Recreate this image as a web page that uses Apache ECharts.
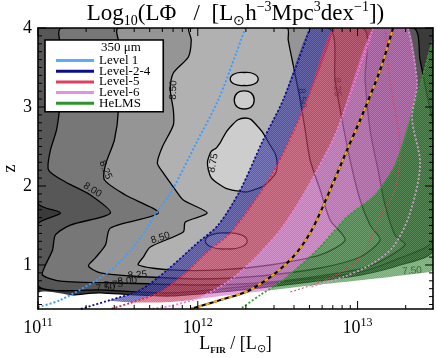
<!DOCTYPE html>
<html><head><meta charset="utf-8">
<script src="https://cdn.jsdelivr.net/npm/echarts@6/dist/echarts.min.js"></script>
<style>html,body{margin:0;padding:0;background:#fff}#c{width:436px;height:358px}</style>
</head><body><div id="c"></div>
<script>
// ---------------- data (x = log10 L_FIR, y = z) ----------------
const xTickValues = [11, 12, 13];
const xMinorTickValues = [2e11,3e11,4e11,5e11,6e11,7e11,8e11,9e11,2e12,3e12,4e12,5e12,6e12,7e12,8e12,9e12,2e13];
const yTickValues = [1, 2, 3, 4];
const legendNames = ['Level 1', 'Level-2-4', 'Level-5', 'Level-6', 'HeLMS'];
const legendHeader = '350 \u03bcm';

// filled contour regions of Log10(L Phi), level >= value
const contourLevels = [7.50, 7.75, 8.00, 8.25, 8.50, 8.75, 8.75, 8.75, 8.75];
const contourR750 = [[11.000,4.000],[13.472,4.000],[13.472,1.190],[13.266,1.000],[13.016,0.873],[12.641,0.772],[12.203,0.671],[11.828,0.608],[11.391,0.646],[11.000,0.684]];
const contourR775 = [[11.000,0.734],[11.000,1.519],[11.141,1.658],[11.000,1.785],[11.000,4.000],[13.347,4.000],[13.391,3.595],[13.441,3.089],[13.472,2.772],[13.472,1.316],[13.266,1.089],[13.016,0.911],[12.641,0.810],[12.203,0.709],[11.828,0.646],[11.391,0.684]];
const contourR800 = [[11.147,4.000],[11.159,3.595],[11.141,3.089],[11.116,2.709],[11.078,2.456],[11.066,2.203],[11.172,2.051],[11.328,1.886],[11.453,1.658],[11.203,1.506],[11.109,1.380],[11.091,1.190],[11.047,1.000],[11.028,0.873],[11.141,0.797],[11.516,0.772],[12.016,0.747],[12.391,0.772],[12.766,0.861],[13.078,0.987],[13.297,1.253],[13.234,1.380],[13.172,1.759],[13.128,2.203],[13.078,2.709],[13.047,3.342],[13.028,4.000]];
const contourR825 = [[11.503,4.000],[11.516,3.722],[11.491,3.342],[11.503,2.962],[11.478,2.582],[11.422,2.266],[11.416,2.076],[11.547,1.886],[11.753,1.658],[11.453,1.468],[11.422,1.253],[11.359,1.089],[11.316,0.987],[11.391,0.899],[11.578,0.861],[12.016,0.823],[12.391,0.861],[12.766,0.962],[13.016,1.101],[13.141,1.316],[13.078,1.506],[13.016,1.823],[12.953,2.329],[12.891,2.962],[12.859,3.342],[12.816,4.000]];
const contourR850 = [[11.947,4.000],[11.959,3.848],[11.941,3.633],[11.847,3.430],[11.828,3.215],[11.847,2.962],[11.847,2.772],[11.778,2.494],[11.747,2.291],[11.784,2.165],[11.847,1.987],[11.909,1.823],[12.059,1.658],[11.922,1.544],[11.909,1.418],[11.703,1.228],[11.659,1.101],[11.628,1.000],[11.828,0.937],[12.141,0.937],[12.453,1.000],[12.766,1.127],[12.922,1.316],[12.828,1.570],[12.766,1.949],[12.703,2.329],[12.672,2.709],[12.641,3.089],[12.597,3.532],[12.566,3.848],[12.559,4.000]];
const contourR875 = [[12.122,2.494],[12.203,2.747],[12.297,2.861],[12.378,2.747],[12.434,2.582],[12.497,2.291],[12.453,2.076],[12.347,1.949],[12.247,1.937],[12.122,2.038],[12.066,2.203],[12.078,2.418]];
const island1 = [[12.203,3.354],[12.228,3.418],[12.291,3.437],[12.353,3.418],[12.378,3.354],[12.353,3.291],[12.291,3.272],[12.228,3.291]];
const island2 = [[12.228,3.089],[12.247,3.177],[12.291,3.203],[12.334,3.177],[12.353,3.089],[12.334,3.000],[12.291,2.975],[12.247,3.000]];
const island3 = [[12.047,1.304],[12.084,1.380],[12.178,1.405],[12.272,1.380],[12.309,1.304],[12.272,1.228],[12.178,1.203],[12.084,1.228]];
const noDataRegion = [[11.000,0.646],[11.266,0.595],[11.534,0.532],[11.828,0.532],[12.203,0.620],[12.622,0.722],[13.034,0.810],[13.453,0.911],[13.472,0.924],[13.472,0.300],[11.000,0.300]];

// contour labels: [x, z, text, angle]
const contourLabels = [[11.341,1.949,'8.00',-32],[11.422,2.203,'8.25',-68],[11.766,1.342,'8.50',18],[12.097,2.291,'8.75',80],[11.847,3.215,'8.50',88],[12.653,3.114,'8.50',-85],[12.872,3.253,'8.25',-88],[11.622,0.873,'8.25',5],[11.559,0.797,'8.00',5],[11.472,0.747,'7.75',5],[11.422,0.709,'7.50',5],[13.341,0.924,'7.50',5]];

// survey selection limits
const level1Limit = [[11.000,0.468],[11.141,0.557],[11.434,0.899],[11.597,1.228],[11.734,1.633],[11.847,1.975],[11.984,2.519],[12.128,3.089],[12.241,3.684],[12.297,4.000]];
const level24Edge = [[12.703,4.000],[12.534,3.089],[12.409,2.582],[12.266,1.949],[12.128,1.506],[11.997,1.278],[11.809,0.937],[11.641,0.684],[11.453,0.557],[11.266,0.443]];
const level5Edge = [[12.847,4.000],[12.684,3.089],[12.497,2.266],[12.359,1.823],[12.203,1.405],[12.059,1.165],[11.909,0.873],[11.766,0.658],[11.578,0.519],[11.453,0.443]];
const level5Outer = [[13.172,4.000],[13.203,3.342],[13.266,2.456],[13.234,1.949],[13.141,1.608],[13.016,1.101],[12.828,0.835],[12.578,0.658]];
const level6Edge = [[13.097,4.000],[12.872,2.709],[12.747,2.203],[12.641,1.823],[12.516,1.443],[12.359,1.089],[12.203,0.810],[12.016,0.595],[11.828,0.481],[11.703,0.443]];
const level6Outer = [[13.316,4.000],[13.372,3.278],[13.341,2.873],[13.391,2.291],[13.328,1.658],[13.222,1.228],[13.078,1.000],[12.909,0.848],[12.703,0.722]];
const helmsEdge = [[13.472,3.848],[13.391,3.278],[13.328,2.835],[13.234,2.266],[13.109,1.886],[12.934,1.608],[12.747,1.190],[12.534,0.810],[12.391,0.620],[12.266,0.443]];
const dashedTrack = [[11.953,0.443],[12.141,0.557],[12.328,0.684],[12.559,1.025],[12.703,1.405],[12.847,2.038],[12.934,2.456],[13.016,2.835],[13.141,3.468],[13.222,4.000]];

// ---------------- layout / style ----------------
const X_MIN = 11, X_MAX = 13.472, Y_MIN = 0.443, Y_MAX = 4.0;
const SERIF = 'Liberation Serif';
const greys = ['#3b3b3b','#575757','#777777','#959595','#b1b1b1','#cdcdcd','#cdcdcd','#cdcdcd','#cdcdcd'];
const bandColors = {'Level-2-4': 'rgba(25,25,150,0.62)', 'Level-5': 'rgba(205,30,75,0.62)', 'Level-6': 'rgba(215,85,200,0.6)', 'HeLMS': 'rgba(30,125,30,0.62)'};
const legendColors = ['#5aaaff','#0c0c8e','#e0405e','#e690e0','#2a962a'];

function hatch(color){
  const c = document.createElement('canvas'); c.width = 2; c.height = 2;
  const g = c.getContext('2d'); g.fillStyle = color;
  g.fillRect(0,0,1,1); g.fillRect(1,1,1,1);
  return {image: c, repeat: 'repeat'};
}

const contourPolys = [contourR750, contourR775, contourR800, contourR825, contourR850, contourR875, island1, island2, island3];
const bandPolys = {
  'Level-2-4': level24Edge.concat(level5Edge.slice().reverse()),
  'Level-5': level5Edge.concat(level6Edge.slice().reverse()),
  'Level-6': level6Edge.concat(helmsEdge.slice(2).reverse(), [level6Outer[1], level6Outer[0]]),
  'HeLMS': helmsEdge.concat([[12.266,0.30],[13.472,0.30]])
};

function polySeries(name, polys, styleFn, z, smooth){
  return {
    type: 'custom', name: name, z: z, silent: true, clip: true,
    data: polys.map((p, i) => [12, 2, i]),
    renderItem: function(params, api){
      const i = params.dataIndex;
      const pts = polys[i].map(p => api.coord(p));
      return {type: 'polygon', shape: {points: pts, smooth: smooth(i)}, style: styleFn(i)};
    }
  };
}

const series = [];
series.push(polySeries('contours', contourPolys, i => ({fill: greys[i], stroke: '#000', lineWidth: 1.3}), 1, i => (i >= 5 ? 0.5 : 0.25)));
series.push({
  type: 'custom', name: 'clabels', z: 2, silent: true, clip: true,
  data: contourLabels.map(l => [l[0], l[1]]),
  renderItem: function(params, api){
    const l = contourLabels[params.dataIndex];
    const p = api.coord([l[0], l[1]]);
    return {type: 'text', x: p[0], y: p[1], rotation: l[3] * Math.PI / 180,
      style: {text: l[2], fill: '#111', font: '10px "Liberation Sans"', align: 'center', verticalAlign: 'middle'}};
  }
});
['Level-2-4','Level-5','Level-6','HeLMS'].forEach((n, k) => {
  series.push(polySeries(n, [bandPolys[n]], () => ({fill: bandColors[n]}), 3 + k * 0.01, () => 0.2));
  series.push(polySeries(n, [bandPolys[n]], () => ({fill: hatch('rgba(255,255,255,0.18)')}), 3.005 + k * 0.01, () => 0.2));
});
series.push(polySeries('nodata', [noDataRegion], () => ({fill: '#fff'}), 4, () => 0.3));

function edge(name, data, color, width, dash, z){
  return {type: 'line', name: name, data: data, z: z || 5, showSymbol: false, smooth: 0.3, silent: true, clip: true,
    lineStyle: {color: color, width: width, type: dash}};
}
series.push(edge('e24', level24Edge, '#0c0c8e', 1.8, [2,2]));
series.push(edge('e5', level5Edge, '#dc2a52', 1.8, [2,2]));
series.push(edge('e5o', level5Outer, '#e0405e', 1, [2,2]));
series.push(edge('e6', level6Edge, '#e680dc', 1.8, [2,2]));
series.push(edge('e6o', level6Outer, '#cf9acb', 1.8, [2,2]));
series.push(edge('eH', helmsEdge, '#2fa02f', 1.8, [2,2]));
series.push(edge('Level 1', level1Limit, '#3f9dff', 2, [2,2]));
series.push(edge('track', dashedTrack, '#000', 2.2, 'solid', 6));
series.push(edge('track2', dashedTrack, '#f2a81d', 2.2, [4,4], 6));

// ticks
const tickItems = [];
xTickValues.forEach(v => tickItems.push(['x', v, 8]));
xMinorTickValues.forEach(v => tickItems.push(['x', Math.log10(v), 4]));
yTickValues.forEach(v => tickItems.push(['y', v, 8]));
for (let k = 5; k <= 39; k++) { if (k % 10) tickItems.push(['y', k / 10, 4]); }
series.push({
  type: 'custom', name: 'ticks', z: 12, silent: true, clip: false,
  data: tickItems.map(() => [12, 2]),
  renderItem: function(params, api){
    const t = tickItems[params.dataIndex];
    const cs = params.coordSys;
    const st = {stroke: '#000', lineWidth: 1};
    if (t[0] === 'x') {
      const x = api.coord([t[1], Y_MIN])[0];
      const yb = cs.y + cs.height, yt = cs.y;
      return {type: 'group', children: [
        {type: 'line', shape: {x1: x, y1: yb, x2: x, y2: yb - t[2]}, style: st},
        {type: 'line', shape: {x1: x, y1: yt, x2: x, y2: yt + t[2]}, style: st}]};
    }
    const y = api.coord([X_MIN, t[1]])[1];
    const xl = cs.x, xr = cs.x + cs.width;
    return {type: 'group', children: [
      {type: 'line', shape: {x1: xl, y1: y, x2: xl + t[2], y2: y}, style: st},
      {type: 'line', shape: {x1: xr, y1: y, x2: xr - t[2], y2: y}, style: st}]};
  }
});

const isInt = v => Math.abs(v - Math.round(v)) < 1e-6;
const axisLine = {show: true, lineStyle: {color: '#000', width: 1.6}};
const R = (size, extra) => Object.assign({fontFamily: SERIF, fontSize: size, color: '#000', fontWeight: 'normal'}, extra || {});

const option = {
  animation: false,
  backgroundColor: '#fff',
  title: {
    text: '{a|Log}{s|10}{a|(L\u03a6   /  [L}{s|\u2299}{a|h}{p|\u22123}{a|Mpc}{p|3}{a|dex}{p|\u22121}{a|])}',
    left: 235.5, top: 0, textAlign: 'center', padding: 0,
    textStyle: {fontWeight: 'normal', rich: {
      a: R(23, {lineHeight: 28}),
      s: R(14, {verticalAlign: 'bottom', lineHeight: 14}),
      p: R(14, {verticalAlign: 'top', lineHeight: 14})
    }}
  },
  grid: {left: 38, right: 3, top: 28, bottom: 49, containLabel: false, outerBoundsMode: 'none'},
  xAxis: [{
    type: 'value', min: X_MIN, max: X_MAX, interval: 1, z: 10, position: 'bottom',
    axisLine: axisLine, axisTick: {show: false}, splitLine: {show: false},
    axisLabel: {margin: 8, formatter: v => isInt(v) ? '{b|10}{s|' + Math.round(v) + '}' : '',
      rich: {b: R(18, {lineHeight: 22}), s: R(12, {verticalAlign: 'top', lineHeight: 12})}},
    name: '{a|L}{b|FIR}{a| / [L}{c|\u2299}{a|]}', nameLocation: 'middle', nameGap: 24, nameMoveOverlap: false,
    nameTextStyle: {rich: {a: R(18, {lineHeight: 22}),
      b: R(9, {verticalAlign: 'bottom', lineHeight: 10, fontWeight: 'bold'}),
      c: R(11, {verticalAlign: 'bottom', lineHeight: 12})}}
  }, {
    type: 'value', min: X_MIN, max: X_MAX, interval: 1, z: 10, position: 'top',
    axisLine: axisLine, axisTick: {show: false}, axisLabel: {show: false}, splitLine: {show: false}
  }],
  yAxis: [{
    type: 'value', min: Y_MIN, max: Y_MAX, minInterval: 1, maxInterval: 1, z: 10, position: 'left',
    axisLine: axisLine, axisTick: {show: false}, splitLine: {show: false},
    axisLabel: {margin: 6, formatter: v => isInt(v) ? String(Math.round(v)) : '',
      fontFamily: SERIF, fontSize: 18, color: '#000'},
    name: 'z', nameLocation: 'middle', nameGap: 19, nameRotate: 90, nameMoveOverlap: false,
    nameTextStyle: {fontFamily: SERIF, fontSize: 18, color: '#000'}
  }, {
    type: 'value', min: Y_MIN, max: Y_MAX, minInterval: 1, maxInterval: 1, z: 10, position: 'right',
    axisLine: axisLine, axisTick: {show: false}, axisLabel: {show: false}, splitLine: {show: false}
  }],
  legend: {
    left: 45, top: 40, orient: 'vertical', icon: 'rect', itemWidth: 38, itemHeight: 3, itemGap: -2.3,
    padding: [14, 13, 2, 11], backgroundColor: '#fff', borderColor: '#000', borderWidth: 1.6, borderRadius: 0,
    selectedMode: false, z: 20,
    textStyle: {fontFamily: SERIF, fontSize: 13, color: '#000', lineHeight: 10.7},
    data: legendNames.map((n, i) => ({name: n, icon: 'rect', itemStyle: {color: legendColors[i], borderWidth: 0}}))
  },
  graphic: [{type: 'text', left: 101, top: 41, z: 25,
    style: {text: legendHeader, font: '13px "Liberation Serif"', fill: '#000'}}],
  series: series
};

const chart = echarts.init(document.getElementById('c'), null, {renderer: 'canvas'});
chart.setOption(option);
</script></body></html>
